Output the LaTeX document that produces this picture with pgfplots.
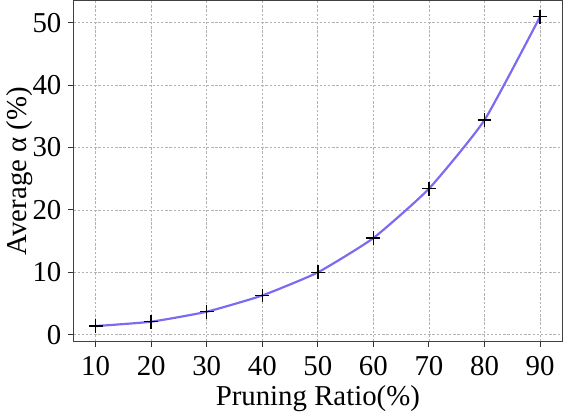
\documentclass[border=0pt]{standalone}
\usepackage{fontspec}
\setmainfont{Liberation Serif}
\usepackage{pgfplots}
\pgfplotsset{compat=1.18}
\definecolor{lineblue}{RGB}{123,107,240}
\begin{document}
\begin{tikzpicture}
\begin{axis}[
  scale only axis,
  width=246pt, height=171.5pt,
  xmin=6, xmax=94, ymin=-1.08, ymax=53.5,
  xtick={10,20,...,90}, ytick={0,10,...,50},
  tick align=outside, tick pos=left,
  major tick length=2.5pt,
  tick style={black!80, line width=0.5pt},
  axis line style={black!75, line width=0.7pt},
  grid=major,
  grid style={gray!60, dash pattern=on 1.2pt off 0.9pt, line width=0.35pt},
  /pgf/number format/assume math mode=true,
  ticklabel style={font=\fontsize{14.5}{17}\selectfont},
  xticklabel style={yshift=-1.5pt},
  label style={font=\fontsize{14.5}{17}\selectfont},
  xlabel={Pruning Ratio(\%)},
  ylabel={Average α (\%)},
  xlabel style={yshift=2pt},
  ylabel style={yshift=-7pt},
]
\addplot[lineblue, line width=1.1pt, smooth, tension=0.3, mark=+, mark size=3.5pt,
  mark options={black, line width=0.7pt, solid}] coordinates {
(10,1.4) (20,2.1) (30,3.7) (40,6.3) (50,10.0) (60,15.5) (70,23.4) (80,34.4) (90,50.95)
};
\end{axis}
\end{tikzpicture}
\end{document}
